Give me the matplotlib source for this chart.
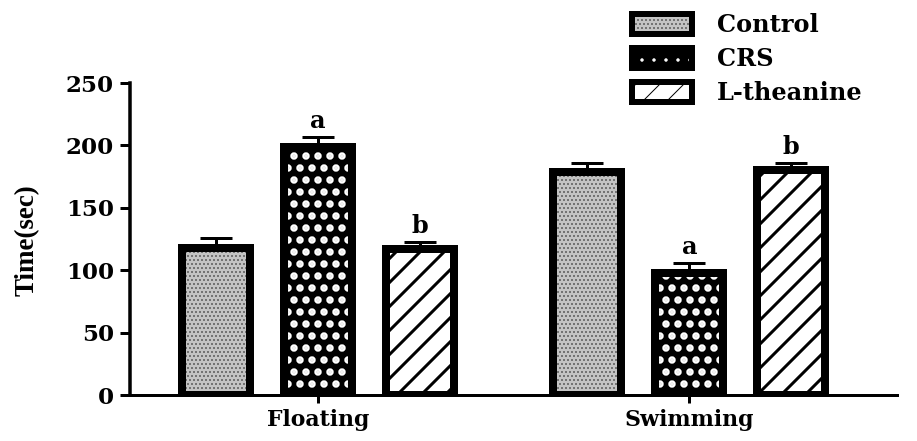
import matplotlib
matplotlib.use("Agg")
import matplotlib.pyplot as plt
import numpy as np
from matplotlib.patches import Patch
from matplotlib.legend_handler import HandlerTuple

# ---- data ----
groups = ["Floating", "Swimming"]
treatments = ["Control", "CRS", "L-theanine"]
control_mean = [118, 179]
crs_mean = [199, 98]
theanine_mean = [117, 180]
control_sem = [7.5, 6.5]
crs_sem = [7.5, 7.5]
theanine_sem = [5.5, 5.5]
crs_sig = ["a", "a"]
theanine_sig = ["b", "b"]
y_ticks = [0, 50, 100, 150, 200, 250]

means = [control_mean, crs_mean, theanine_mean]
sems = [control_sem, crs_sem, theanine_sem]
sigs = [["", ""], crs_sig, theanine_sig]

# fill styles: (face colour, hatch, hatch colour, hatch line width)
styles = [
    ("#c4c4c4", "...", "#505050", 1.0),
    ("black", ".", "white", 5.0),
    ("white", "/", "black", 3.0),
]

DPI = 72
fig = plt.figure(figsize=(917 / DPI, 441 / DPI), dpi=DPI)
ax = fig.add_axes([130 / 917, 46 / 441, 767 / 917, 312 / 441])

bar_w = 0.667
group_gap = 3.64
serif = "DejaVu Serif"


def set_hlw(p, lw):
    if hasattr(p, "set_hatch_linewidth"):
        p.set_hatch_linewidth(lw)


handles = []
for i, (name, m, s, sg, st) in enumerate(zip(treatments, means, sems, sigs, styles)):
    face, hatch, hcol, hlw = st
    x = np.arange(len(groups)) * group_gap + i
    with plt.rc_context({"hatch.linewidth": hlw}):
        ax.bar(x, m, bar_w, color=face, linewidth=0, zorder=2)
        over = ax.bar(x, m, bar_w, facecolor="none", edgecolor=hcol,
                      linewidth=0, hatch=hatch, zorder=3)
        for p in over:
            set_hlw(p, hlw)
    ax.bar(x, m, bar_w, facecolor="none", edgecolor="black",
           linewidth=8, zorder=4)
    ax.errorbar(x, m, yerr=[np.zeros(len(m)), s], fmt="none",
                ecolor="black", elinewidth=3, capsize=16, capthick=3,
                zorder=1)
    for xi, mi, si, lab in zip(x, m, s, sg):
        if lab:
            ax.annotate(lab, (xi, mi + si), xytext=(0, 9),
                        textcoords="offset points", ha="center",
                        va="baseline", fontsize=24, fontweight="bold",
                        family=serif)
    # legend proxy: fill, hatch overlay and outline stacked in one box
    with plt.rc_context({"hatch.linewidth": hlw}):
        h_base = Patch(facecolor=face, edgecolor="none", linewidth=0)
        h_over = Patch(facecolor="none", edgecolor=hcol, linewidth=0,
                       hatch=hatch)
        set_hlw(h_over, hlw)
    h_line = Patch(facecolor="none", edgecolor="black", linewidth=6)
    handles.append((h_base, h_over, h_line))

ax.set_ylim(0, 250)
ax.set_xlim(-0.843, 6.676)
ax.set_yticks(y_ticks)
ax.set_xticks([1, 1 + group_gap])
ax.set_xticklabels(groups)

for side in ("top", "right"):
    ax.spines[side].set_visible(False)
ax.spines["left"].set_linewidth(3.5)
ax.spines["bottom"].set_linewidth(3)
ax.tick_params(axis="y", length=10, width=3, direction="out", pad=6,
               labelsize=23)
ax.tick_params(axis="x", length=8, width=3, direction="out", pad=6,
               labelsize=22)
for lab in ax.get_yticklabels() + ax.get_xticklabels():
    lab.set_fontweight("bold")
    lab.set_family(serif)

fig.text(27 / 917, 1 - 240 / 441, "Time(sec)", rotation=90, ha="center",
         va="center", fontsize=27, fontweight="bold",
         family="Liberation Serif")

fig.legend(handles, treatments,
           handler_map={tuple: HandlerTuple(ndivide=1, pad=0)},
           loc="upper left", bbox_to_anchor=(632 / 917, 1 - 13 / 441),
           frameon=False, borderpad=0, borderaxespad=0,
           handlelength=2.5, handleheight=0.92, handletextpad=1.05,
           labelspacing=0.42,
           prop={"family": serif, "weight": "bold", "size": 24})

fig.savefig("out.png", dpi=DPI)
